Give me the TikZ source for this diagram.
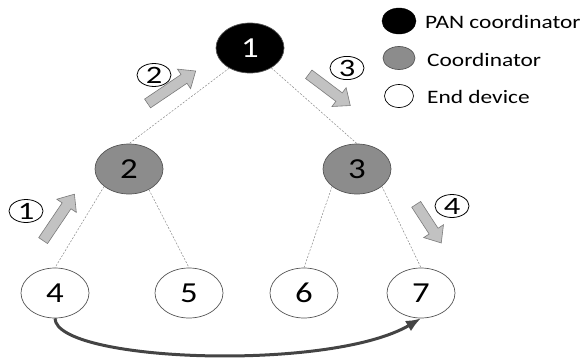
\documentclass[tikz,border=0pt]{standalone}
\usepackage{fontspec}
\setmainfont{Carlito}
\usetikzlibrary{shapes.geometric,shapes.arrows,arrows.meta}
\definecolor{coordgray}{HTML}{8C8C8C}
\definecolor{arrowgray}{HTML}{C2C2C2}
\definecolor{arrowedge}{HTML}{7A7A7A}
\definecolor{linkgray}{HTML}{8A8A8A}
\definecolor{curvegray}{HTML}{444444}
\definecolor{edgegray}{HTML}{555555}
\begin{document}
\begin{tikzpicture}[x=1pt,y=-1pt,
  treenode/.style={ellipse,draw=edgegray,line width=0.7pt,minimum width=68pt,minimum height=50pt,inner sep=0pt,font=\fontsize{29}{29}\selectfont},
  pannode/.style={treenode,fill=black,text=white},
  coordnode/.style={treenode,fill=coordgray},
  endnode/.style={treenode,fill=white},
  link/.style={draw=linkgray,line width=0.5pt,dash pattern=on 2pt off 1.5pt},
  blockarrow/.style={single arrow,draw=arrowedge,fill=arrowgray,line width=0.6pt,inner xsep=0pt,inner ysep=5pt,text height=0pt,text depth=0pt,minimum width=0pt,single arrow head extend=6.5pt,single arrow tip angle=80},
  stepnum/.style={ellipse,draw=black,line width=0.8pt,minimum width=34pt,minimum height=23pt,inner sep=0pt,font=\fontsize{25}{25}\selectfont},
  curvearrow/.style={draw=curvegray,line width=3pt,-{Latex[length=15pt,width=12pt]}},
  legtext/.style={anchor=base west,inner sep=0pt,font=\fontsize{19}{19}\selectfont}
]
\useasboundingbox (0,0) rectangle (586,359);

% tree nodes
\node[pannode] (n1) at (250,48) {\scalebox{1.2}[1]{1}};
\node[coordnode] (n2) at (129,169) {\scalebox{1.2}[1]{2}};
\node[coordnode] (n3) at (357,169) {\scalebox{1.2}[1]{3}};
\node[endnode] (n4) at (55,293) {\scalebox{1.2}[1]{4}};
\node[endnode] (n5) at (189,293) {\scalebox{1.2}[1]{5}};
\node[endnode] (n6) at (304,293) {\scalebox{1.2}[1]{6}};
\node[endnode] (n7) at (421,293) {\scalebox{1.2}[1]{7}};

% links
\draw[link] (n1.224) -- (n2.north);
\draw[link] (n1.317) -- (n3.north);
\draw[link] (n2.215) -- (n4.north);
\draw[link] (n2.314) -- (n5.north);
\draw[link] (n3.215) -- (n6.north);
\draw[link] (n3.325) -- (n7.north);

% block arrows
\node[blockarrow,minimum height=56pt,rotate=56] (ba1) at (57,220) {};
\node[blockarrow,minimum height=58pt,rotate=34] (ba2) at (169,89) {};
\node[blockarrow,minimum height=52pt,rotate=-37] (ba3) at (327,88) {};
\node[blockarrow,minimum height=46pt,rotate=-57] (ba4) at (427,221) {};

% step numbers
\node[stepnum] (s1) at (26,211) {\scalebox{1.3}[1]{1}};
\node[stepnum] (s2) at (154,75) {\scalebox{1.3}[1]{2}};
\node[stepnum] (s3) at (347,68) {\scalebox{1.3}[1]{3}};
\node[stepnum] (s4) at (452,206) {\scalebox{1.3}[1]{4}};

% direct route
\draw[curvearrow] (n4.south) .. controls (56,362) and (330,372) .. (n7.south);

% legend
\node[ellipse,fill=black,draw=black,minimum width=34pt,minimum height=26pt,inner sep=0pt] (lg1) at (399,21) {};
\node[ellipse,fill=coordgray,draw=edgegray,line width=0.7pt,minimum width=32pt,minimum height=23pt,inner sep=0pt] (lg2) at (399,58) {};
\node[ellipse,fill=white,draw=black,line width=0.7pt,minimum width=29pt,minimum height=23pt,inner sep=0pt] (lg3) at (399,96) {};
\node[legtext] (lt1) at (425,28) {\scalebox{1.23}[1]{PAN coordinator}};
\node[legtext] (lt2) at (427,66) {\scalebox{1.23}[1]{Coordinator}};
\node[legtext] (lt3) at (427,103) {\scalebox{1.23}[1]{End device}};
\end{tikzpicture}
\end{document}
